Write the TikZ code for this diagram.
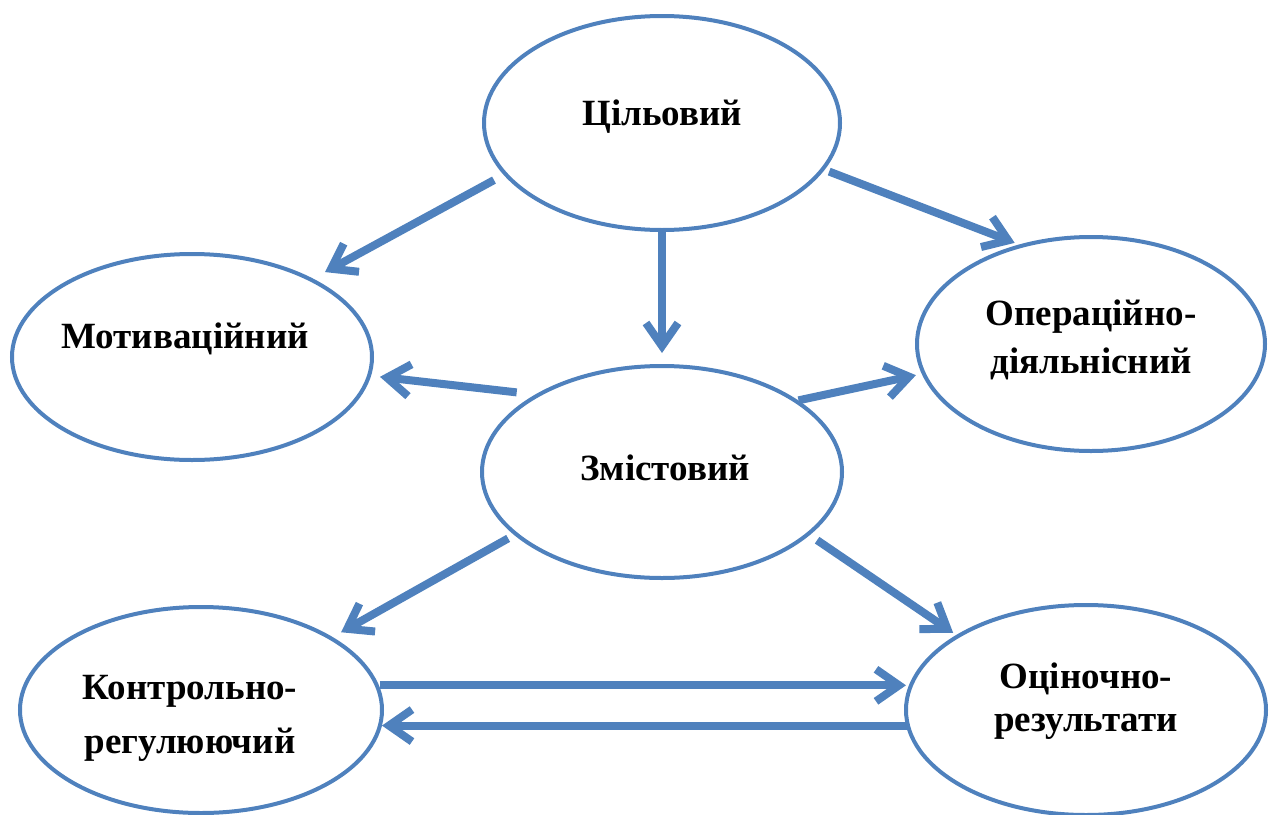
\documentclass[tikz,border=0pt]{standalone}
\usepackage{fontspec}
\setmainfont{Liberation Serif}
\usepackage{tikz}
\usetikzlibrary{shapes.geometric}
\usetikzlibrary{arrows.meta}
\definecolor{ovalblue}{RGB}{79,129,189}

\begin{document}
\begin{tikzpicture}[x=1pt, y=-1pt,
		stage/.style={draw=ovalblue, line width=4pt, ellipse,
			inner sep=0pt, outer sep=0pt, minimum width=360pt, minimum height=212pt},
		stagetext/.style={font=\fontsize{37}{48}\selectfont\bfseries, align=center, anchor=center},
		link/.style={draw=ovalblue, line width=8pt, -{Straight Barb[length=23pt, width=32pt]}}
	]
		\useasboundingbox (0,0) rectangle (1269,814);
		
		\node[stage, minimum width=356pt, minimum height=214pt,
			label={[stagetext, yshift=6pt]center:Цільовий}] (cil) at (662,123) {};
		\node[stage, minimum height=206pt,
			label={[stagetext, xshift=-7pt, yshift=18pt]center:Мотиваційний}] (mot) at (192,357) {};
		\node[stage, minimum width=348pt, minimum height=214pt,
			label={[stagetext, yshift=4pt]center:{Операційно-\\діяльнісний}}] (op) at (1091,344) {};
		\node[stage,
			label={[stagetext, xshift=3pt, yshift=4pt]center:Змістовий}] (zm) at (662,472) {};
		\node[stage, minimum width=362pt, minimum height=206pt,
			label={[stagetext, xshift=-11pt, yshift=-8pt]center:{Контрольно-\\[6pt]регулюючий}}] (kon) at (201,710) {};
		\node[stage, minimum height=210pt,
			label={[stagetext, yshift=9pt]center:{Оціночно-\\[-5pt]результати}}] (ots) at (1086,710) {};
		
		\draw[link, shorten <=13pt, shorten >=16pt] (cil.198.4) -- (mot.33.1);
		\draw[link, shorten <=7pt, shorten >=8pt] (cil.344.7) -- (op.125.8);
		\draw[link, shorten >=13pt] (cil.270) -- (zm.90);
		\draw[link, shorten <=22pt, shorten >=11pt] (zm.148.5) -- (mot.354);
		\draw[link, shorten <=3pt, shorten >=8pt] (zm.28.2) -- (op.190.7);
		\draw[link, shorten <=9pt, shorten >=12pt] (zm.203.9) -- (kon.29.4);
		\draw[link, shorten <=11pt, shorten >=6pt] (zm.337) -- (ots.150.1);
		\draw[link, shorten <=3pt] (kon.8.1) -- (kon.8.1 -| ots.west);
		\draw[link] (ots.185.8) -- (ots.185.8 -| kon.east);
	\end{tikzpicture}
\end{document}
